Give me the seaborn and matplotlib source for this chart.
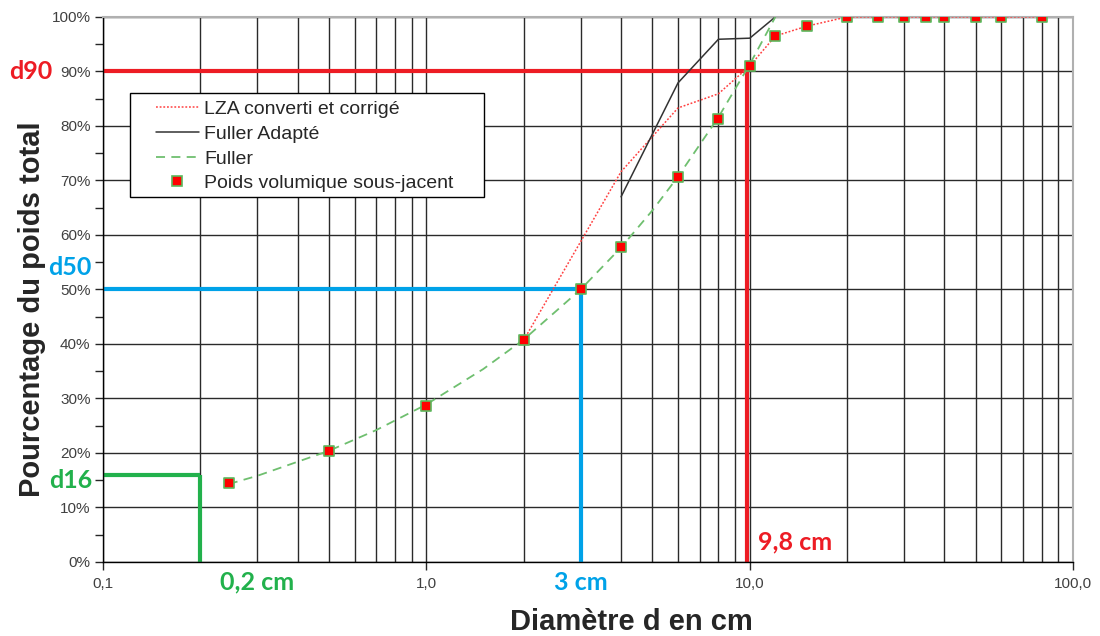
import numpy as np
import pandas as pd
import matplotlib
matplotlib.use("Agg")
import matplotlib.pyplot as plt
import matplotlib.ticker as mticker
import matplotlib.transforms as mtransforms
from matplotlib.lines import Line2D
from matplotlib.patches import Rectangle
import seaborn as sns

# ================================
# DATA
# ================================
lza_d = [2, 4, 6, 8, 10, 12, 15, 20, 25, 30, 35, 40, 50, 60, 80]
lza_p = [40.7, 71.6, 83.3, 85.9, 91.0, 96.5, 98.3, 100, 100, 100, 100, 100, 100, 100, 100]

fuller_adapte_d = [4, 6, 8, 10, 12]
fuller_adapte_p = [67.0, 87.9, 95.9, 96.1, 100]

fuller_d = [0.245, 0.3, 0.5, 0.7, 1, 1.5, 2, 3, 4, 5, 6, 8, 10, 12]
fuller_p = [14.3, 15.8, 20.4, 24.2, 28.9, 35.4, 40.8, 50.0, 57.7, 64.5, 70.7, 81.6, 91.3, 100]

poids_d = [0.245, 0.5, 1, 2, 3, 4, 6, 8, 10, 12, 15, 20, 25, 30, 35, 40, 50, 60, 80]
poids_p = [14.5, 20.3, 28.7, 40.7, 50.0, 57.7, 70.7, 81.3, 91.0, 96.5, 98.3, 100, 100, 100, 100, 100, 100, 100, 100]

# characteristic diameters
d_names = ["d16", "d50", "d90"]
d_percent = [16, 50, 90]
d_diam = [0.2, 3, 9.8]
d_text = ["0,2 cm", "3 cm", "9,8 cm"]
d_colors = ["#22b14c", "#00a2e8", "#ed1c24"]

x_ticks = [0.1, 1, 10, 100]
x_ticklabels = ["0,1", "1,0", "10,0", "100,0"]

# ================================
# PLOT
# ================================
sns.set_style("white")
plt.rcParams["font.family"] = ["Liberation Sans", "DejaVu Sans"]
label_font = ["Lato", "DejaVu Sans"]

fig = plt.figure(figsize=(11, 6.36), dpi=100)
ax = fig.add_axes([0.0936, 0.1164, 0.882, 0.857])

ax.set_xscale("log")
ax.set_xlim(0.1, 100)
ax.set_ylim(0, 100)

# grid
ax.xaxis.set_minor_locator(mticker.LogLocator(base=10, subs=np.arange(2, 10)))
ax.yaxis.set_major_locator(mticker.MultipleLocator(10))
ax.yaxis.set_minor_locator(mticker.MultipleLocator(5))
ax.grid(True, which="major", axis="both", color="#2a2a2a", linewidth=1)
ax.grid(True, which="minor", axis="x", color="#2a2a2a", linewidth=1)
ax.set_axisbelow(True)

# reference lines for d16 / d50 / d90
for p, d, c in zip(d_percent, d_diam, d_colors):
    ax.plot([0.1, d], [p, p], color=c, linewidth=3, zorder=2.5, solid_capstyle="butt")
    ax.plot([d, d], [0, p], color=c, linewidth=3, zorder=2.5, solid_capstyle="butt")

# curves
df_lza = pd.DataFrame({"d": lza_d, "p": lza_p})
df_fa = pd.DataFrame({"d": fuller_adapte_d, "p": fuller_adapte_p})
df_f = pd.DataFrame({"d": fuller_d, "p": fuller_p})
df_pv = pd.DataFrame({"d": poids_d, "p": poids_p})

sns.lineplot(data=df_lza, x="d", y="p", ax=ax, color="#ff4040", linewidth=1.1,
             linestyle=(0, (1.2, 1.2)), zorder=3, sort=False)
sns.lineplot(data=df_fa, x="d", y="p", ax=ax, color="#333333", linewidth=1.1,
             zorder=3, sort=False)
sns.lineplot(data=df_f, x="d", y="p", ax=ax, color="#6fbf6f", linewidth=1.3,
             linestyle=(0, (5, 3.5)), zorder=3, sort=False)
sns.scatterplot(data=df_pv, x="d", y="p", ax=ax, marker="s", s=44, color="#ff0000",
                edgecolor="#5cb85c", linewidth=1.2, zorder=4)

# axes styling
for side in ["left", "bottom"]:
    ax.spines[side].set_color("#000000")
    ax.spines[side].set_linewidth(1)
for side in ["top", "right"]:
    ax.spines[side].set_color("#b0b0b0")
    ax.spines[side].set_linewidth(1.5)

ax.set_xticks(x_ticks)
ax.set_xticklabels(x_ticklabels)
ax.xaxis.set_minor_formatter(mticker.NullFormatter())
ax.yaxis.set_major_formatter(mticker.FuncFormatter(lambda v, pos: f"{int(v)}%"))
ax.tick_params(axis="x", which="major", direction="out", length=6, width=1,
               labelsize=11, labelcolor="#404040", pad=5, bottom=True)
ax.tick_params(axis="x", which="minor", length=0)
ax.tick_params(axis="y", which="both", direction="out", length=6, width=1,
               labelsize=11, labelcolor="#404040", pad=3, left=True)

ax.set_xlabel("Diamètre d en cm", fontsize=21, fontweight="bold", labelpad=12)
ax.set_ylabel("Pourcentage du poids total", fontsize=21, fontweight="bold", labelpad=4)
ax.xaxis.label.set_x(0.545)
ax.yaxis.label.set_y(0.464)

# d-labels
trans_y = mtransforms.blended_transform_factory(ax.transAxes, ax.transData)
trans_x = mtransforms.blended_transform_factory(ax.transData, ax.transAxes)
label_y = [15, 54, 89.9]
label_x = [-0.055, -0.057, -0.097]
for name, ly, lx, c in zip(d_names, label_y, label_x, d_colors):
    ax.text(lx, ly, name, transform=trans_y, color=c, fontsize=18, fontweight="bold",
            family=label_font, ha="left", va="center", clip_on=False)

ax.text(0.3, -0.037, d_text[0], transform=trans_x, color=d_colors[0], fontsize=18,
        fontweight="bold", family=label_font, ha="center", va="center", clip_on=False)
ax.text(3, -0.037, d_text[1], transform=trans_x, color=d_colors[1], fontsize=18,
        fontweight="bold", family=label_font, ha="center", va="center", clip_on=False)
ax.text(10.6, 3.7, d_text[2], color=d_colors[2], fontsize=18, fontweight="bold",
        family=label_font, ha="left", va="center", zorder=5)

# legend (frame drawn separately so the padding can be wider on the left)
ax.add_patch(Rectangle((0.028, 0.6697), 0.365, 0.191, transform=ax.transAxes,
                       facecolor="white", edgecolor="black", linewidth=1, zorder=5.5))
handles = [
    Line2D([], [], color="#ff4040", linewidth=1.1, linestyle=(0, (1.2, 1.2))),
    Line2D([], [], color="#333333", linewidth=1.1),
    Line2D([], [], color="#6fbf6f", linewidth=1.3, linestyle=(0, (5, 3.5))),
    Line2D([], [], color="#ff0000", marker="s", markersize=6.5, markeredgecolor="#5cb85c",
           markeredgewidth=1.2, linestyle="none"),
]
labels = ["LZA converti et corrigé", "Fuller Adapté", "Fuller", "Poids volumique sous-jacent"]
leg = ax.legend(handles, labels, loc="upper left", bbox_to_anchor=(0.0485, 0.857),
                borderaxespad=0, fontsize=14, frameon=False, handlelength=2.2,
                handletextpad=0.3, labelspacing=0.36, borderpad=0.3)
leg.set_zorder(6)

fig.savefig("out.png", dpi=100)
